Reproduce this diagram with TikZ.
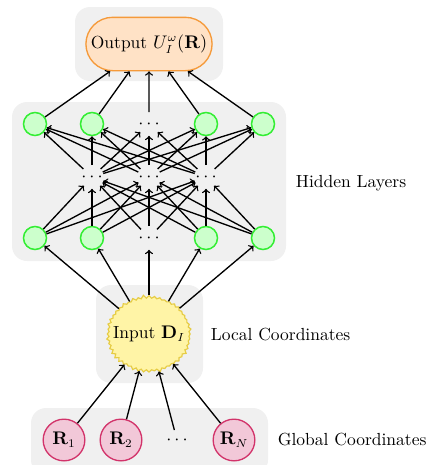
\documentclass[tikz,border=0pt]{standalone}
\usetikzlibrary{shapes.symbols,shapes.misc}
\definecolor{bgc}{HTML}{F0F0F0}
\definecolor{hidf}{HTML}{CCFFCC}
\definecolor{hidd}{HTML}{33EE33}
\definecolor{outf}{HTML}{FFE2C6}
\definecolor{outd}{HTML}{F59A3A}
\definecolor{inpf}{HTML}{FFF4A6}
\definecolor{inpd}{HTML}{E6CC44}
\definecolor{rf}{HTML}{F2C8D8}
\definecolor{rd}{HTML}{D2336A}
\begin{document}
\begin{tikzpicture}[x=0.6pt,y=-0.6pt,
  font=\fontsize{10.5pt}{12.5pt}\selectfont,
  bgbox/.style={fill=bgc,rounded corners=9pt},
  hid/.style={circle,draw=hidd,fill=hidf,line width=0.9pt,minimum size=13.8pt,inner sep=0pt},
  dotn/.style={circle,minimum size=13.8pt,inner sep=0pt},
  gnode/.style={circle,draw=rd,fill=rf,line width=0.8pt,minimum size=25pt,inner sep=0pt},
  outn/.style={rounded rectangle,draw=outd,fill=outf,line width=0.8pt,minimum width=75pt,minimum height=32pt,inner sep=2pt},
  inpn/.style={starburst,starburst points=48,starburst point height=2pt,random starburst=11,draw=inpd,fill=inpf,line width=0.7pt,minimum width=52pt,minimum height=47pt,inner sep=0pt},
  conn/.style={->,line width=0.8pt},
  lbl/.style={anchor=west}]
\useasboundingbox (0,0) rectangle (427,465);
% backgrounds
\fill[bgbox] (75,7) rectangle (223,81);
\fill[bgbox] (12,102) rectangle (286,261);
\fill[bgbox] (96,285) rectangle (203,383);
\fill[bgbox] (31,408) rectangle (268,475);
% output
\node[outn] (out) at (149,44) {Output $U_I^{\omega}(\mathbf{R})$};
% top hidden row
\node[hid] (t1) at (35,124) {};
\node[hid] (t2) at (92,124) {};
\node[dotn] (t3) at (149,124) {$\cdots$};
\node[hid] (t4) at (206,124) {};
\node[hid] (t5) at (263,124) {};
% middle row
\node[dotn] (m1) at (92,177) {$\cdots$};
\node[dotn] (m2) at (149,177) {$\cdots$};
\node[dotn] (m3) at (206,177) {$\cdots$};
% bottom hidden row
\node[hid] (b1) at (35,238) {};
\node[hid] (b2) at (92,238) {};
\node[dotn] (b3) at (149,238) {$\cdots$};
\node[hid] (b4) at (206,238) {};
\node[hid] (b5) at (263,238) {};
% input
\node[inpn] (inp) at (149,334) {\makebox[0pt]{Input $\mathbf{D}_I$}};
% global
\node[gnode] (r1) at (64,440) {$\mathbf{R}_1$};
\node[gnode] (r2) at (121,440) {$\mathbf{R}_2$};
\node (r3) at (177,440) {$\cdots$};
\node[gnode] (r4) at (234,440) {$\mathbf{R}_N$};
% labels
\node[lbl] (lh) at (290,183) {Hidden Layers};
\node[lbl] (ll) at (205,335) {Local Coordinates};
\node[lbl] (lg) at (272,440) {Global Coordinates};
% connectors
\foreach \t in {t1,t2,t3,t4,t5} \draw[conn] (\t) -- (out);
\foreach \m in {m1,m2,m3} \foreach \t in {t1,t2,t3,t4,t5} \draw[conn] (\m) -- (\t);
\foreach \b in {b1,b2,b3,b4,b5} \foreach \m in {m1,m2,m3} \draw[conn] (\b) -- (\m);
\foreach \b in {b1,b2,b3,b4,b5} \draw[conn] (inp) -- (\b);
\foreach \r in {r1,r2,r3,r4} \draw[conn] (\r) -- (inp);
\end{tikzpicture}
\end{document}
